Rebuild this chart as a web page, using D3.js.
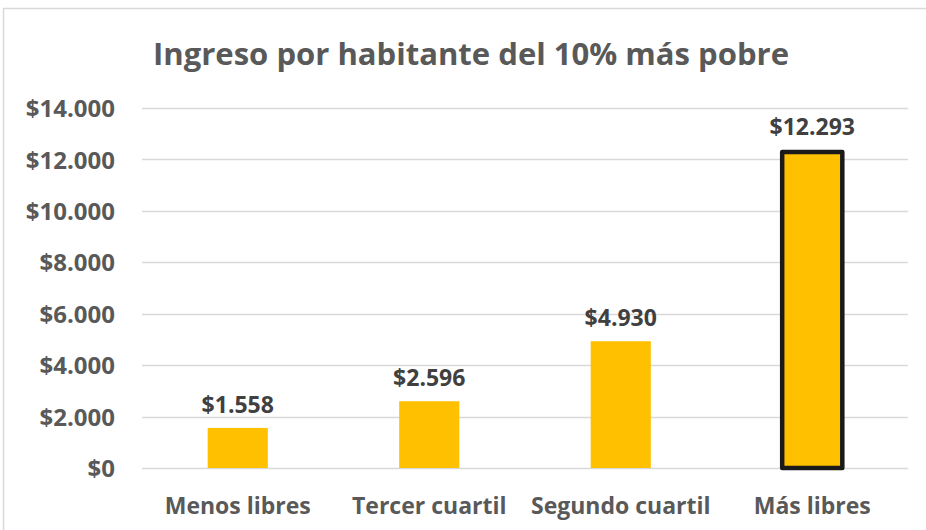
<!DOCTYPE html>
<html><head><meta charset="utf-8">
<script src="https://cdn.jsdelivr.net/npm/d3@7"></script>
<style>body{margin:0;background:#fff;}svg{display:block;}</style>
</head><body>
<script>
const categories = ["Menos libres", "Tercer cuartil", "Segundo cuartil", "Más libres"];
const values = [1558, 2596, 4930, 12293];
const highlighted = [false, false, false, true];
const yTicks = [0, 2000, 4000, 6000, 8000, 10000, 12000, 14000];
const title = "Ingreso por habitante del 10% más pobre";

const W = 926, H = 530;
const m = {left: 142, right: 18, top: 108, bottom: 62};
const svg = d3.select("body").append("svg").attr("width", W).attr("height", H);
svg.append("rect").attr("x", 3.5).attr("y", 8.5).attr("width", 960).attr("height", 560)
  .attr("fill", "#fff").attr("stroke", "#d9d9d9").attr("stroke-width", 1.5);

const x = d3.scaleBand().domain(categories).range([m.left, W - m.right]).paddingInner(0.686).paddingOuter(0.343);
const y = d3.scaleLinear().domain([0, 14000]).range([H - m.bottom, m.top]);
const fmt = v => "$" + d3.format(",")(v).replace(/,/g, ".");

const font = "'Open Sans', sans-serif";
svg.append("text").attr("x", 471).attr("y", 65).attr("text-anchor", "middle")
  .attr("font-family", font).attr("font-weight", 700).attr("font-size", 30).attr("fill", "#595959")
  .attr("textLength", 636).attr("lengthAdjust", "spacingAndGlyphs")
  .text(title);

// gridlines
svg.append("g").selectAll("line").data(yTicks).join("line")
  .attr("x1", m.left).attr("x2", W - m.right)
  .attr("y1", d => Math.round(y(d)) + 0.5).attr("y2", d => Math.round(y(d)) + 0.5)
  .attr("stroke", "#d9d9d9").attr("stroke-width", 1.5);

// y axis labels
const yAxis = d3.axisLeft(y).tickValues(yTicks).tickFormat(fmt).tickSize(0).tickPadding(0);
const gy = svg.append("g").attr("transform", `translate(${m.left - 27},0)`).call(yAxis);
gy.select(".domain").remove();
gy.selectAll("text").attr("font-family", font).attr("font-weight", 700).attr("font-size", 24).attr("fill", "#595959").attr("dy", "0.36em");

// x axis labels
const xAxis = d3.axisBottom(x).tickSize(0).tickPadding(0);
const gx = svg.append("g").attr("transform", `translate(0,${H - m.bottom + 28})`).call(xAxis);
gx.select(".domain").remove();
gx.selectAll("text").attr("font-family", font).attr("font-weight", 700).attr("font-size", 23).attr("fill", "#595959").attr("dy", "0.8em");

// bars
const data = categories.map((c, i) => ({c, v: values[i], h: highlighted[i]}));
svg.append("g").selectAll("rect").data(data).join("rect")
  .attr("x", d => x(d.c)).attr("width", x.bandwidth())
  .attr("y", d => y(d.v)).attr("height", d => y(0) - y(d.v))
  .attr("fill", "#FFC000")
  .attr("stroke", d => d.h ? "#1a1a1a" : "none").attr("stroke-width", 4.5).attr("stroke-linejoin", "round");

// data labels
svg.append("g").selectAll("text").data(data).join("text")
  .attr("x", d => x(d.c) + x.bandwidth() / 2).attr("y", d => y(d.v) - (d.h ? 17 : 15))
  .attr("text-anchor", "middle").attr("font-family", font).attr("font-weight", 700).attr("font-size", 23)
  .attr("fill", "#404040").text(d => fmt(d.v));
</script>
</body></html>
